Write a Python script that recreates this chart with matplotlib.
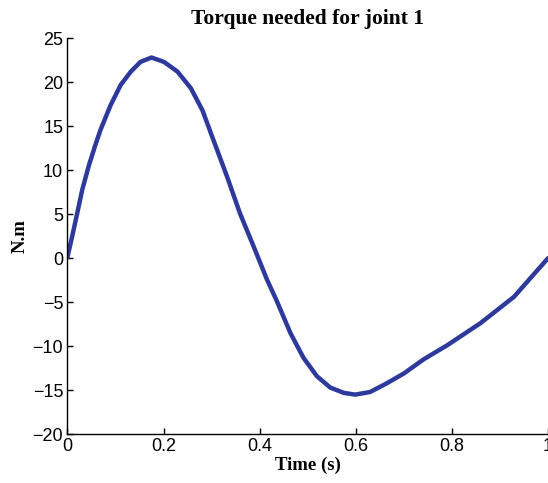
import numpy as np
import matplotlib.pyplot as plt

# values
time = [0.0, 0.01, 0.02, 0.031, 0.045, 0.059, 0.069, 0.09, 0.111,
        0.132, 0.152, 0.175, 0.201, 0.229, 0.257, 0.281, 0.304, 0.332, 0.359,
        0.387, 0.415, 0.436, 0.464, 0.491, 0.519, 0.547, 0.575, 0.599, 0.63,
        0.665, 0.7, 0.741, 0.79, 0.859, 0.929, 1.0]
torque = [0.1, 2.5, 5.0, 7.8, 10.6, 13.0, 14.6, 17.4, 19.7,
          21.2, 22.3, 22.8, 22.3, 21.2, 19.3, 16.8, 13.4, 9.3, 5.1,
          1.4, -2.4, -4.9, -8.5, -11.3, -13.4, -14.7, -15.3, -15.5, -15.2,
          -14.2, -13.1, -11.5, -9.9, -7.4, -4.4, 0.0]

xticks = [0, 0.2, 0.4, 0.6, 0.8, 1]
xticklabels = ['0', '0.2', '0.4', '0.6', '0.8', '1']
yticks = [-20, -15, -10, -5, 0, 5, 10, 15, 20, 25]

fig = plt.figure(figsize=(5.48, 4.83), dpi=100)
ax = fig.add_axes([0.123, 0.101, 0.877, 0.82])
ax.plot(time, torque, color='#2d3a9c', linewidth=3.2,
        solid_capstyle='round', solid_joinstyle='round')

ax.set_xlim(0, 1)
ax.set_ylim(-20, 25)
ax.set_xticks(xticks)
ax.set_xticklabels(xticklabels)
ax.set_yticks(yticks)
ax.set_yticklabels([str(v).replace('-', '\u2212') for v in yticks])
ax.tick_params(direction='in', length=4, width=1, labelsize=13, pad=3)
for lab in ax.get_xticklabels() + ax.get_yticklabels():
    lab.set_fontfamily('Liberation Sans')
ax.spines['top'].set_visible(False)
ax.spines['right'].set_visible(False)
ax.spines['left'].set_linewidth(1)
ax.spines['bottom'].set_linewidth(1)

ax.set_title('Torque needed for joint 1', fontsize=15.5, fontweight='bold',
             family='Liberation Serif', pad=10)
ax.set_xlabel('Time (s)', fontsize=13.5, fontweight='bold', family='Liberation Serif', labelpad=1)
ax.set_ylabel('N.m', fontsize=13.5, fontweight='bold', family='Liberation Serif', labelpad=3)

fig.savefig('out.png', dpi=100)
